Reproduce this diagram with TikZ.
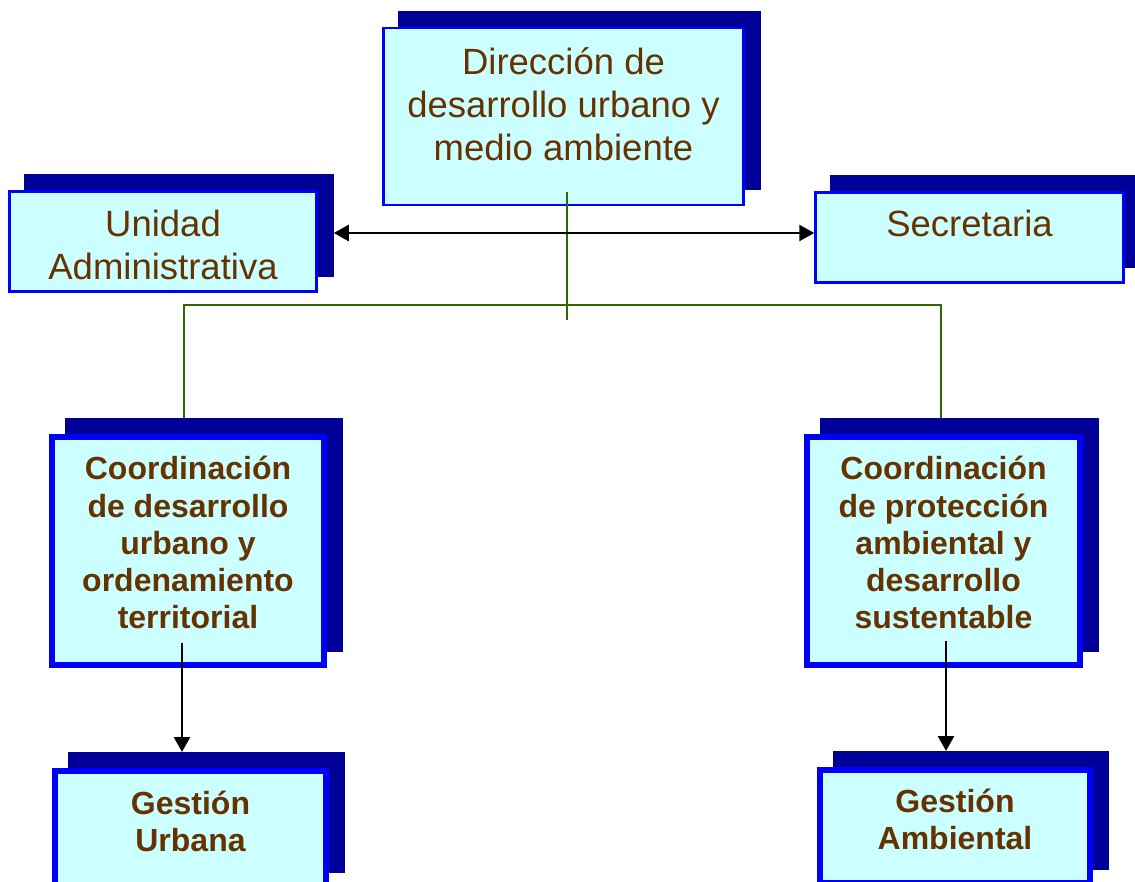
\documentclass[tikz,border=0pt]{standalone}
\usepackage{fontspec}
\setmainfont{Liberation Sans}
\usepackage{xcolor}
\usetikzlibrary{positioning,shadows,arrows.meta}
\definecolor{boxfill}{HTML}{CCFFFF}
\definecolor{boxline}{HTML}{0000FF}
\definecolor{boxshade}{HTML}{000099}
\definecolor{boxtext}{HTML}{663300}
\definecolor{linkgreen}{HTML}{336600}
\tikzset{gl/.style={line width=2pt, draw=linkgreen}}
\tikzset{ar/.style={line width=2.6pt, -{Triangle[length=15pt,width=16pt]}}}

\begin{document}
\begin{tikzpicture}[x=1pt, y=-1pt,
unit/.style={rectangle, draw=boxline, fill=boxfill, line width=2.5pt, text=boxtext, align=center, inner sep=0pt,
  copy shadow={shadow xshift=16pt, shadow yshift=16pt, fill=boxshade, draw=boxshade}},
head/.style={unit, font=\fontsize{36.5}{43}\selectfont},
office/.style={unit, line width=6pt, font=\fontsize{32}{37.2}\selectfont\bfseries},
]
\useasboundingbox (0,0) rectangle (1135,882);
\node[head, minimum width=360pt, minimum height=177pt] (dir) at (563.5,116.5) {Dirección de\\desarrollo urbano y\\medio ambiente\rule[-25pt]{0pt}{0pt}};
\node[head, minimum width=307pt, minimum height=100pt] (ua) at (163,241.5) {\rule{0pt}{33pt}Unidad\\Administrativa};
\node[head, minimum width=308pt, minimum height=90pt] (sec) at (969.5,237.5) {Secretaria\rule[-28pt]{0pt}{0pt}};
\node[office, minimum width=272pt, minimum height=228pt] (cdu) at (188,551) {Coordinación\\de desarrollo\\urbano y\\ordenamiento\\territorial\rule[-17pt]{0pt}{0pt}};
\node[office, minimum width=273pt, minimum height=228pt] (cpa) at (943.5,551) {Coordinación\\de protección\\ambiental y\\desarrollo\\sustentable\rule[-17pt]{0pt}{0pt}};
\node[office, minimum width=271pt, minimum height=115pt] (gu) at (190.5,828.5) {Gestión\\Urbana\rule[-15pt]{0pt}{0pt}};
\node[office, minimum width=270pt, minimum height=113pt] (ga) at (955,826.5) {Gestión\\Ambiental\rule[-15pt]{0pt}{0pt}};

\coordinate (dirfoot) at (567,192);
\coordinate (busend) at (567,320);
\coordinate (busl) at (184,305);
\coordinate (busr) at (941,305);
\coordinate (axis) at (0,233);
\coordinate (cdufoot) at (182,643);
\coordinate (cpafoot) at (946,641);

\draw[gl] (dirfoot) -- (busend);
\draw[gl] ([yshift=16pt]cdu.north -| busl) -- (busl) -- (busr) -- ([yshift=16pt]cpa.north -| busr);
\draw[ar, {Triangle[length=15pt,width=16pt]}-{Triangle[length=15pt,width=16pt]}] ([xshift=16pt]ua.east |- axis) -- (sec.west |- axis);
\draw[ar] (cdufoot) -- ([yshift=16pt]gu.north -| cdufoot);
\draw[ar] (cpafoot) -- ([yshift=16pt]ga.north -| cpafoot);
\end{tikzpicture}
\end{document}
